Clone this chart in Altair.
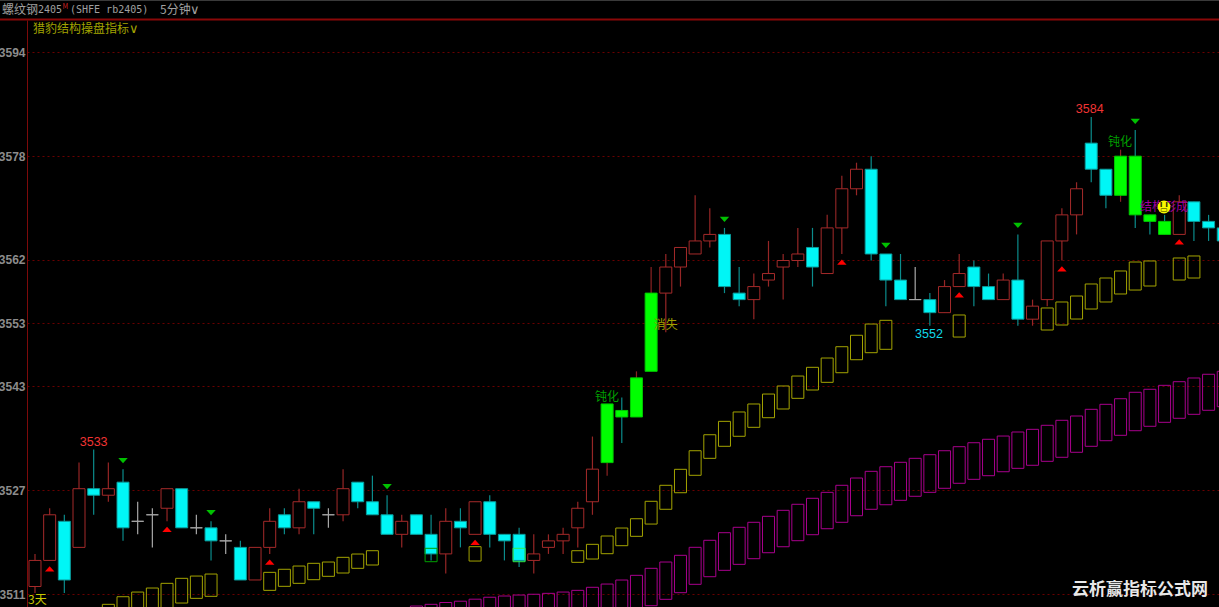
import altair as alt
import pandas as pd

# ---- candles: body top, body bottom, high, low, kind ----
body_top = [3516,3523,3522,3527,3527,3527,3528,3522,3523,3527,3527,3521,3521,3519,3518,3518,3522,3523,3525,3525,
            3523,3527,3528,3525,3523,3522,3523,3520,3522,3522,3525,3525,3520,3520,3517,3519,3520,3524,3530,3540,
            3539,3544,3557,3561,3564,3565,3566,3566,3557,3558,3560,3562,3563,3564,3567,3573,3576,3576,3563,3559,
            3556,3556,3558,3560,3561,3558,3559,3559,3555,3565,3569,3573,3580,3576,3578,3578,3569,3568,3571,3571,
            3568,3567]
body_bot = [3512,3516,3513,3518,3526,3526,3521,3522,3523,3524,3521,3521,3519,3519,3513,3513,3518,3521,3521,3524,
            3523,3523,3525,3523,3520,3520,3520,3517,3517,3521,3520,3520,3519,3516,3516,3518,3519,3521,3525,3531,
            3538,3538,3545,3557,3561,3563,3565,3558,3556,3556,3559,3561,3562,3561,3560,3567,3573,3563,3559,3556,
            3556,3554,3554,3558,3558,3556,3556,3553,3553,3556,3565,3569,3576,3572,3572,3569,3568,3566,3566,3568,
            3567,3565]
high = [3517,3524,3523,3531,3533,3531,3530,3525,3524,3527,3527,3523,3522,3520,3519,3518,3524,3524,3527,3525,
        3524,3530,3528,3529,3526,3523,3523,3523,3524,3524,3525,3526,3520,3521,3520,3520,3521,3525,3535,3540,
        3541,3545,3561,3563,3564,3572,3570,3567,3561,3560,3565,3563,3567,3567,3569,3575,3577,3578,3563,3563,
        3561,3557,3559,3563,3562,3560,3560,3566,3556,3565,3570,3574,3584,3576,3579,3582,3569,3569,3572,3571,
        3569,3568]
low = [3511,3516,3511,3518,3523,3525,3519,3520,3518,3522,3521,3520,3516,3517,3513,3513,3517,3520,3520,3520,
       3521,3522,3524,3523,3520,3518,3520,3516,3514,3518,3520,3518,3516,3515,3514,3517,3517,3518,3523,3529,
       3534,3538,3545,3551,3558,3563,3564,3557,3555,3553,3558,3556,3561,3558,3560,3563,3572,3562,3555,3556,
       3556,3552,3554,3558,3555,3556,3556,3552,3552,3555,3562,3566,3574,3570,3571,3567,3566,3566,3566,3565,
       3565,3565]
kind = ["u","u","d","u","d","u","d","n","n","u","d","n","d","n","d","u","u","d","u","d",
        "n","u","d","d","d","u","d","d","u","d","u","d","d","d","u","u","u","u","u","gu",
        "gd","gu","gu","u","u","u","u","d","d","u","u","u","u","d","u","u","u","d","d","d",
        "n","d","u","u","d","d","u","d","u","u","u","u","d","d","gu","gd","gd","gd","u","d",
        "d","d"]

# ---- yellow band ----
yellow_i = [5,6,7,8,9,10,11,12,16,17,18,19,20,21,22,23,30,37,38,39,40,41,42,43,44,45,46,47,48,49,50,51,52,53,54,55,56,57,58,63,
            69,70,71,72,73,74,75,76,78,79]
yellow_top = [3509.46,3510.63,3511.35,3511.97,3512.69,3513.46,3513.81,3514.12,3514.38,3514.85,3515.35,3515.77,3515.97,
              3516.69,3517.2,3517.71,3518.33,3517.71,3518.69,3519.97,3521.2,3522.63,3525.31,3527.77,3530.23,3533.09,
              3535.55,3537.61,3539.05,3540.28,3541.81,3543.05,3544.58,3545.92,3547.35,3549.09,3550.85,3552.58,3553.15,
              3553.97,3555.05,3555.97,3556.89,3558.74,3559.66,3560.74,3562.12,3562.28,3562.74,3563.05]
yellow_bot = [3505.8,3507.05,3507.66,3508.28,3508.97,3509.66,3510.38,3510.69,3511.61,3512.23,3512.69,3513.25,3513.77,
              3514.28,3515,3515.51,3516.12,3515.92,3516.43,3517.25,3518.48,3519.92,3521.81,3524.08,3526.63,3529.31,
              3531.92,3533.77,3535.31,3536.69,3538.17,3539.51,3541.15,3542.43,3543.61,3545.09,3547.09,3548.17,3548.69,
              3550.58,3551.66,3552.43,3553.35,3554.89,3555.97,3557.2,3557.81,3558.43,3559.35,3559.66]

# ---- magenta band, bars 26..81 ----
magenta_i = list(range(26, 82))
magenta_top = [3509.2,3509.46,3509.74,3509.94,3510.25,3510.55,3510.74,3510.89,3511.01,3511.15,3511.35,3511.61,3512.08,
               3512.58,3513.2,3513.92,3515,3515.97,3517,3518.23,3519.31,3520.48,3521.31,3522.08,3523,3523.92,3524.85,
               3525.77,3526.69,3527.77,3528.89,3529.92,3530.63,3531.31,3531.92,3532.48,3533.09,3533.71,3534.32,3534.85,
               3535.35,3535.97,3536.38,3537,3537.77,3538.43,3539.46,3540.23,3541.09,3542.08,3542.54,3543.15,3543.71,
               3544.28,3544.85,3545.31]
magenta_bot = [3503.5,3503.8,3504,3504.2,3504.5,3504.8,3505,3505.2,3505.3,3505.4,3505.6,3505.9,3506.4,
               3506.9,3507.5,3508.2,3509.25,3510.23,3511.25,3512.54,3513.71,3514.69,3515.61,3516.48,3517.4,3518.32,
               3519.25,3520.17,3521.09,3522.08,3523.09,3524.08,3524.78,3525.46,3526.08,3526.69,3527.31,3528.08,3528.69,
               3529.25,3529.86,3530.38,3530.85,3531.46,3532.08,3532.85,3533.77,3534.63,3535.46,3536.17,3536.85,3537.46,
               3538.08,3538.69,3539.31,3539.86]

# ---- outlined boxes drawn over two cyan candles ----
over_i = [27, 33]
over_top = [3518.08, 3518.08]
over_bot = [3516.02, 3516.02]
over_color = ["#00a000", "#30f050"]

# ---- signal triangles ----
up_i = [1, 9, 16, 30, 55, 63, 70, 78]
up_p = [3514.9, 3521, 3515.97, 3519, 3562.1, 3557.05, 3561.05, 3565.2]
down_i = [6, 12, 24, 47, 58, 67, 75]
down_p = [3531.55, 3523.55, 3527.55, 3568.69, 3564.69, 3567.77, 3583.77]

# ---- annotations on the price scale ----
num_i = [4.0, 60.94, 71.9]
num_p = [3534.4, 3551.05, 3585.66]
num_text = ["3533", "3552", "3584"]
num_color = ["#f03434", "#10d8e8", "#f03434"]

cjk_i = [39.0, 73.96, 43.0, 76.96]
cjk_p = [3541.35, 3580.58, 3552.43, 3570.58]
cjk_text = ["钝化", "钝化", "消失", "结构形成"]
cjk_color = ["#00a000", "#00a000", "#a0a000", "#a000a0"]

# ---- axis ticks ----
grid_values = [3511, 3527, 3543, 3552.7, 3562.45, 3578.4, 3594.4]


def level(p):
    # body edges sit slightly above the nominal levels of the drawn axis
    return p + 0.2 + 0.003 * (p - 3511)


fill_map = {"u": "#000000", "d": "#00f6f6", "n": "transparent", "gu": "#00ff00", "gd": "#00ff00"}
edge_map = {"u": "#a52a2a", "d": "#0a9c9c", "n": "#a8a8a8", "gu": "#00c800", "gd": "#00c800"}
wick_map = {"u": "#962626", "d": "#0b8c8c", "n": "#a8a8a8", "gu": "#8a2222", "gd": "#0b8c8c"}

candles = pd.DataFrame({
    "i": list(range(len(body_top))),
    "top": [level(v) for v in body_top],
    "bot": [level(v) for v in body_bot],
    "high": [level(v) for v in high],
    "low": [level(v) for v in low],
    "fill": [fill_map[k] for k in kind],
    "edge": [edge_map[k] for k in kind],
    "wick": [wick_map[k] for k in kind],
})

x_scale = alt.Scale(domain=[-0.545, 80.71], nice=False, zero=False, padding=0)
y_scale = alt.Scale(domain=[3509.05, 3599.35], nice=False, zero=False)
y_axis = alt.Axis(
    values=grid_values, format=".0f", title=None, orient="left",
    ticks=False, labelPadding=2, labelColor="#8c8c8c", labelFont="Liberation Sans",
    labelFontSize=12, labelFontWeight="bold", labelOverlap=False,
    domainColor="#7d0a0a", domainWidth=1,
    grid=True, gridColor="#6a0000", gridDash=[2, 3], gridWidth=1,
)
X = alt.X("i:Q", scale=x_scale, axis=None)


def Y(field):
    return alt.Y(f"{field}:Q", scale=y_scale, axis=y_axis)


magenta = alt.Chart(pd.DataFrame({"i": magenta_i, "top": magenta_top, "bot": magenta_bot})).mark_bar(
    size=12, fillOpacity=0, stroke="#a8008c", strokeWidth=1, clip=True
).encode(x=X, y=Y("top"), y2="bot:Q")

yellow = alt.Chart(pd.DataFrame({"i": yellow_i, "top": yellow_top, "bot": yellow_bot})).mark_bar(
    size=12, fillOpacity=0, stroke="#a3a300", strokeWidth=1, clip=True
).encode(x=X, y=Y("top"), y2="bot:Q")

wicks = alt.Chart(candles).mark_rule(strokeWidth=1.2, clip=True).encode(
    x=X, y=Y("high"), y2="low:Q", color=alt.Color("wick:N", scale=None)
)

bodies = alt.Chart(candles).mark_bar(size=12, strokeWidth=1, clip=True).encode(
    x=X, y=Y("top"), y2="bot:Q",
    fill=alt.Fill("fill:N", scale=None),
    stroke=alt.Stroke("edge:N", scale=None),
)

over = alt.Chart(pd.DataFrame({"i": over_i, "top": over_top, "bot": over_bot, "c": over_color})).mark_bar(
    size=12, fillOpacity=0, strokeWidth=1
).encode(x=X, y=Y("top"), y2="bot:Q", stroke=alt.Stroke("c:N", scale=None))

ups = alt.Chart(pd.DataFrame({"i": up_i, "p": up_p})).mark_point(
    shape="M-0.9,0.5 L0.9,0.5 L0,-0.5 Z", filled=True, size=110,
    color="#ff0000", opacity=1
).encode(x=X, y=Y("p"))

downs = alt.Chart(pd.DataFrame({"i": down_i, "p": down_p})).mark_point(
    shape="M-0.9,-0.5 L0.9,-0.5 L0,0.5 Z", filled=True, size=110,
    color="#00c000", opacity=1
).encode(x=X, y=Y("p"))

nums = alt.Chart(pd.DataFrame({"i": num_i, "p": num_p, "t": num_text, "c": num_color})).mark_text(
    font="Liberation Sans", fontSize=12.5, align="center", baseline="middle"
).encode(x=X, y=Y("p"), text="t:N", color=alt.Color("c:N", scale=None))

cjk = alt.Chart(pd.DataFrame({"i": cjk_i, "p": cjk_p, "t": cjk_text, "c": cjk_color})).mark_text(
    font="Noto Sans CJK SC", fontSize=12, align="center", baseline="middle"
).encode(x=X, y=Y("p"), text="t:N", color=alt.Color("c:N", scale=None))

smile_data = pd.DataFrame({"i": [76.96], "p": [3570.58], "eyes": ["ı ı"], "mouth": ["▭"]})
smile = alt.Chart(smile_data).mark_point(
    shape="circle", filled=True, size=165, color="#f8f800", opacity=1
).encode(x=X, y=Y("p"))
smile_eyes = alt.Chart(smile_data).mark_text(
    font="DejaVu Sans", fontSize=8, fontWeight="bold", color="#303000", align="center", baseline="middle", dy=-2
).encode(x=X, y=Y("p"), text="eyes:N")
smile_mouth = alt.Chart(smile_data).mark_text(
    font="DejaVu Sans", fontSize=8, color="#303000", align="center", baseline="middle", dy=3
).encode(x=X, y=Y("p"), text="mouth:N")


# ---- header strip, rules and watermark placed by pixel value ----
def label(text, px, py, color, size, font="Noto Sans CJK SC", weight="normal"):
    return alt.Chart(pd.DataFrame({"t": [text]})).mark_text(
        font=font, fontSize=size, color=color, align="left", baseline="middle", fontWeight=weight
    ).encode(x=alt.value(px - 27), y=alt.value(py - 20), text="t:N")


def hline(py, color, width):
    return alt.Chart(pd.DataFrame({"a": [0]})).mark_rule(color=color, strokeWidth=width).encode(
        x=alt.value(-27), x2=alt.value(1192), y=alt.value(py - 20)
    )


header = [
    hline(0.5, "#3a3a3a", 1),
    hline(19.5, "#8a0808", 2),
    label("螺纹钢", 2, 10, "#a0a0a0", 12),
    label("2405", 38, 10, "#a0a0a0", 10, "DejaVu Sans Mono"),
    label("M", 62.5, 7, "#d02020", 7),
    label("(SHFE rb2405)", 70, 10, "#a0a0a0", 10, "DejaVu Sans Mono"),
    label("5分钟", 160, 10, "#a0a0a0", 12),
    label("∨", 190, 10, "#a0a0a0", 13, "DejaVu Sans"),
    label("猎豹结构操盘指标", 33, 29, "#a3a300", 12),
    label("∨", 129, 29, "#a3a300", 13, "DejaVu Sans"),
    label("3天", 28, 600, "#c8c800", 12),
    label("云析赢指标公式网", 1072, 590, "#e8e8e8", 17, weight="bold"),
]

PAGE_STYLE = "html,body{margin:0;padding:0;background:#000;overflow:hidden}"

chart = alt.layer(
    magenta, yellow, wicks, bodies, over, ups, downs, nums, cjk, smile, smile_eyes, smile_mouth, *header
).properties(
    width=1192,
    height=587,
    padding={"left": 27, "top": 20, "right": 0, "bottom": 0},
    autosize="none",
    background="#000000",
).configure_view(strokeWidth=0)

chart.save("out.html", embed_options={"renderer": "svg", "actions": False, "defaultStyle": PAGE_STYLE})
